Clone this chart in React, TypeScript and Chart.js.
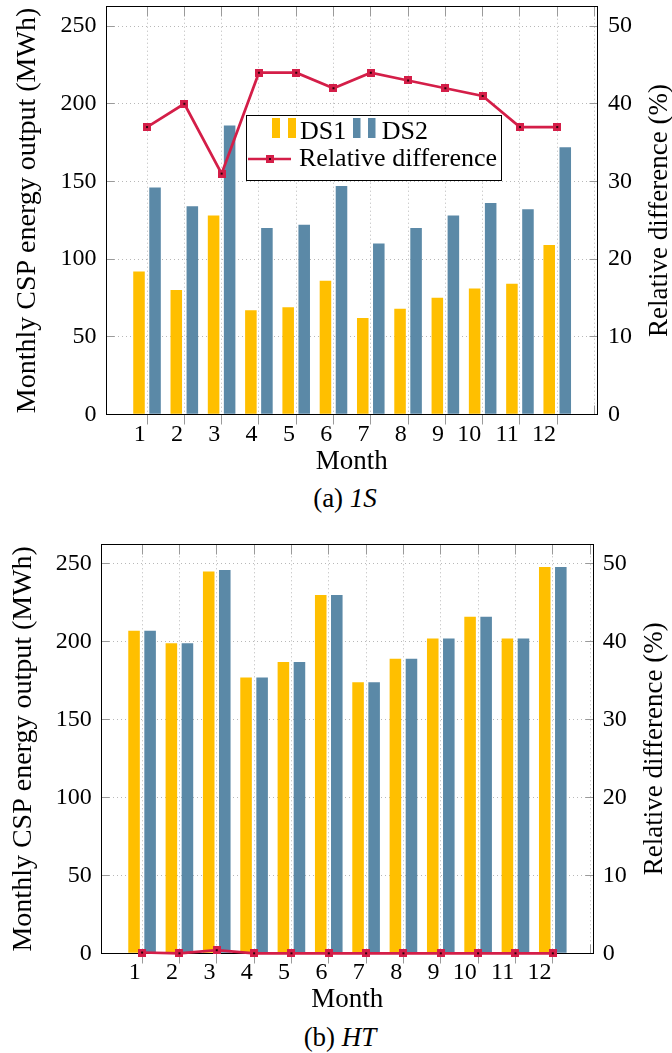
import React, { useEffect, useRef } from 'react';
import { Chart, registerables } from 'chart.js';

Chart.register(...registerables);

const FONT = '"Liberation Serif", "Times New Roman", serif';
const YELLOW = '#FFBF00';
const BLUE = '#5B89A7';
const RED = '#D41E48';
const GRID = '#b8b8b8';
const TICKMARK = '#9a9a9a';

// ---- data ----
const monthLabels = ['1', '2', '3', '4', '5', '6', '7', '8', '9', '10', '11', '12'];
const monthValues = [1, 2, 3, 4, 5, 6, 7, 8, 9, 10, 11, 12];
const xGridValues = [1, 2, 3, 4, 5, 6, 7, 8, 9, 10, 11, 12, 13];
const leftTicks = [0, 50, 100, 150, 200, 250];
const rightTicks = [0, 10, 20, 30, 40, 50];

const ds1_1S = [92, 80, 128, 67, 69, 86, 62, 68, 75, 81, 84, 109];
const ds2_1S = [146, 134, 186, 120, 122, 147, 110, 120, 128, 136, 132, 172];
const rel_1S = [37, 40, 31, 44, 44, 42, 44, 43, 42, 41, 37, 37];

const ds1_HT = [207, 199, 245, 177, 187, 230, 174, 189, 202, 216, 202, 248];
const ds2_HT = [207, 199, 246, 177, 187, 230, 174, 189, 202, 216, 202, 248];
const rel_HT = [0.1, 0, 0.4, 0, 0, 0, 0, 0, 0, 0, 0, 0];

const legendLabels = ['DS1', 'DS2', 'Relative difference'];
const yLeftTitle = 'Monthly CSP energy output (MWh)';
const yRightTitle = 'Relative difference (%)';
const xTitle = 'Month';

let markerCanvas: HTMLCanvasElement | null = null;
function getMarker() {
  if (markerCanvas) return markerCanvas;
  const c = document.createElement('canvas');
  c.width = 8;
  c.height = 8;
  const g = c.getContext('2d')!;
  g.fillStyle = RED;
  g.fillRect(0, 0, 8, 8);
  g.fillStyle = '#2a0008';
  g.fillRect(3, 3, 2, 2);
  markerCanvas = c;
  return c;
}

const framePlugin = {
  id: 'frame',
  afterDatasetDraw(chart: any, args: any) {
    if (args.index !== 1) return;
    const { ctx, chartArea: a, scales } = chart;
    const L = Math.floor(a.left) + 0.5;
    const R = Math.floor(a.right) + 0.5;
    const T = Math.floor(a.top) + 0.5;
    const B = Math.floor(a.bottom) + 0.5;
    ctx.save();
    ctx.strokeStyle = TICKMARK;
    ctx.lineWidth = 1;
    ctx.beginPath();
    for (const v of leftTicks) {
      const y = Math.floor(scales.y.getPixelForValue(v)) + 0.5;
      ctx.moveTo(L, y);
      ctx.lineTo(L + 8, y);
    }
    for (const v of rightTicks) {
      const y = Math.floor(scales.y1.getPixelForValue(v)) + 0.5;
      ctx.moveTo(R - 8, y);
      ctx.lineTo(R, y);
    }
    for (const v of xGridValues) {
      const x = Math.floor(scales.x.getPixelForValue(v)) + 0.5;
      ctx.moveTo(x, T);
      ctx.lineTo(x, T + 10);
      if (monthValues.includes(v)) {
        ctx.moveTo(x, B);
        ctx.lineTo(x, B + 10);
      } else {
        ctx.moveTo(x, B - 9);
        ctx.lineTo(x, B);
      }
    }
    ctx.stroke();
    ctx.strokeStyle = '#000';
    ctx.lineWidth = 1;
    ctx.strokeRect(L, T, R - L, B - T);
    ctx.restore();
  },
  afterDraw(chart: any, _args: any, opts: any) {
    const { ctx, chartArea: a } = chart;
    ctx.save();
    ctx.fillStyle = '#000';
    ctx.font = `27px ${FONT}`;
    ctx.textAlign = 'center';
    ctx.textBaseline = 'middle';
    ctx.translate(opts.rightTitleX, (a.top + a.bottom) / 2);
    ctx.rotate(-Math.PI / 2);
    ctx.fillText(yRightTitle, 0, 0);
    ctx.restore();

    if (opts.legend) {
      const marker = getMarker();
      ctx.save();
      const lx = 246.5, ly = 115.5, lw = 255, lh = 65;
      ctx.fillStyle = '#fff';
      ctx.fillRect(lx, ly, lw, lh);
      ctx.strokeStyle = '#000';
      ctx.lineWidth = 1;
      ctx.strokeRect(lx, ly, lw, lh);
      ctx.fillStyle = YELLOW;
      ctx.fillRect(272, 118, 8, 20);
      ctx.fillRect(288, 118, 8, 20);
      ctx.fillStyle = BLUE;
      ctx.fillRect(353, 118, 7.5, 20);
      ctx.fillRect(368, 118, 7.5, 20);
      ctx.fillStyle = '#000';
      ctx.font = `26px ${FONT}`;
      ctx.textAlign = 'left';
      ctx.textBaseline = 'middle';
      ctx.fillText(legendLabels[0], 300, 131.7);
      ctx.fillText(legendLabels[1], 381.7, 131.7);
      ctx.strokeStyle = RED;
      ctx.lineWidth = 2.7;
      ctx.beginPath();
      ctx.moveTo(248, 159);
      ctx.lineTo(291, 159);
      ctx.stroke();
      ctx.drawImage(marker, 266, 155);
      ctx.fillText(legendLabels[2], 299, 159.5);
      ctx.restore();
    }
  },
};

type Lay = {
  top: number;
  height: number;
  padTop: number;
  leftW: number;
  rightW: number;
  xH: number;
  leftTitlePad: number;
  rightTitleX: number;
  leftTickPad: number;
  rightTickPad: number;
  xTickPad: number;
  legend: boolean;
};

function zeroPad(s: any) {
  s.paddingTop = 0;
  s.paddingBottom = 0;
  s.paddingLeft = 0;
  s.paddingRight = 0;
}

function CSPChart({ ds1, ds2, rel, lay }: { ds1: number[]; ds2: number[]; rel: number[]; lay: Lay }) {
  const ref = useRef<HTMLCanvasElement>(null);
  useEffect(() => {
    const canvas = ref.current!;
    const marker = getMarker();
    const toXY = (arr: number[]) => monthValues.map((x, i) => ({ x, y: arr[i] }));
    const tickFont = { family: FONT, size: 24, lineHeight: 1 };
    const titleFont = { family: FONT, size: 27, lineHeight: 1 };
    const leftTitleFont = { family: FONT, size: 28, lineHeight: 1 };
    const chart = new Chart(canvas, {
      type: 'bar',
      data: {
        datasets: [
          {
            type: 'line',
            label: legendLabels[2],
            data: toXY(rel),
            yAxisID: 'y1',
            borderColor: RED,
            backgroundColor: RED,
            borderWidth: 2.7,
            pointStyle: marker,
            pointRadius: 4,
            order: 0,
            clip: false,
          } as any,
          {
            type: 'bar',
            label: legendLabels[0],
            data: toXY(ds1),
            yAxisID: 'y',
            backgroundColor: YELLOW,
            order: 1,
            categoryPercentage: 0.86,
            barPercentage: 0.72,
          } as any,
          {
            type: 'bar',
            label: legendLabels[1],
            data: toXY(ds2),
            yAxisID: 'y',
            backgroundColor: BLUE,
            order: 1,
            categoryPercentage: 0.86,
            barPercentage: 0.72,
          } as any,
        ],
      },
      options: {
        animation: false,
        responsive: true,
        maintainAspectRatio: false,
        events: [],
        layout: { padding: { top: lay.padTop, left: 0, right: 0, bottom: 0 } },
        plugins: {
          legend: { display: false },
          tooltip: { enabled: false },
          frame: { legend: lay.legend, rightTitleX: lay.rightTitleX },
        } as any,
        scales: {
          x: {
            type: 'linear',
            position: 'bottom',
            min: -0.1,
            max: 13.085,
            offset: false,
            afterBuildTicks: (s: any) => {
              s.ticks = xGridValues.map((v) => ({ value: v }));
            },
            afterFit: (s: any) => {
              s.height = lay.xH;
              zeroPad(s);
            },
            grid: { color: GRID, drawTicks: false, offset: false, lineWidth: 1 },
            border: { display: false, dash: [1, 3] },
            ticks: {
              font: tickFont,
              color: '#000',
              align: 'end',
              labelOffset: -1.3,
              padding: lay.xTickPad,
              autoSkip: false,
              maxRotation: 0,
              minRotation: 0,
              callback: (v: any) => {
                const i = monthValues.indexOf(Number(v));
                return i >= 0 ? monthLabels[i] : '';
              },
            },
            title: {
              display: true,
              text: xTitle,
              font: titleFont,
              color: '#000',
              padding: { top: 0, bottom: 0 },
            },
          },
          y: {
            type: 'linear',
            position: 'left',
            min: 0,
            max: 262.5,
            afterBuildTicks: (s: any) => {
              s.ticks = leftTicks.map((v) => ({ value: v }));
            },
            afterFit: (s: any) => {
              s.width = lay.leftW;
              zeroPad(s);
            },
            grid: { color: GRID, drawTicks: false, lineWidth: 1 },
            border: { display: false, dash: [1, 3] },
            ticks: { font: tickFont, color: '#000', padding: lay.leftTickPad },
            title: {
              display: true,
              text: yLeftTitle,
              font: leftTitleFont,
              color: '#000',
              padding: { top: lay.leftTitlePad, bottom: 0 },
            },
          },
          y1: {
            type: 'linear',
            position: 'right',
            min: 0,
            max: 52.5,
            afterBuildTicks: (s: any) => {
              s.ticks = rightTicks.map((v) => ({ value: v }));
            },
            afterFit: (s: any) => {
              s.width = lay.rightW;
              zeroPad(s);
            },
            grid: { drawOnChartArea: false, drawTicks: false },
            border: { display: false },
            ticks: { font: tickFont, color: '#000', padding: lay.rightTickPad },
            title: { display: false },
          },
        },
      } as any,
      plugins: [framePlugin],
    });
    return () => chart.destroy();
  }, []);
  return (
    <div style={{ position: 'absolute', left: 0, top: lay.top, width: 672, height: lay.height }}>
      <canvas ref={ref} />
    </div>
  );
}

const lay1: Lay = {
  top: 0,
  height: 475,
  padTop: 5.7,
  leftW: 106,
  rightW: 74.3,
  xH: 60.7,
  leftTitlePad: 14,
  rightTitleX: 659.7,
  leftTickPad: 9.5,
  rightTickPad: 10.3,
  xTickPad: 8.5,
  legend: true,
};

const lay2: Lay = {
  top: 530,
  height: 483,
  padTop: 14.3,
  leftW: 101,
  rightW: 78.7,
  xH: 59.7,
  leftTitlePad: 10,
  rightTitleX: 655.3,
  leftTickPad: 9.3,
  rightTickPad: 9.4,
  xTickPad: 7.5,
  legend: false,
};

export default function App() {
  const cap = { position: 'absolute' as const, left: 0, textAlign: 'center' as const, font: `27px ${FONT}`, lineHeight: '30px', color: '#000' };
  return (
    <div style={{ position: 'absolute', left: 0, top: 0, width: 672, height: 1053, background: '#fff' }}>
      <CSPChart ds1={ds1_1S} ds2={ds2_1S} rel={rel_1S} lay={lay1} />
      <div style={{ ...cap, top: 483, width: 690 }}>
        (a) <i>1S</i>
      </div>
      <CSPChart ds1={ds1_HT} ds2={ds2_HT} rel={rel_HT} lay={lay2} />
      <div style={{ ...cap, top: 1022, width: 680 }}>
        (b) <i>HT</i>
      </div>
    </div>
  );
}
